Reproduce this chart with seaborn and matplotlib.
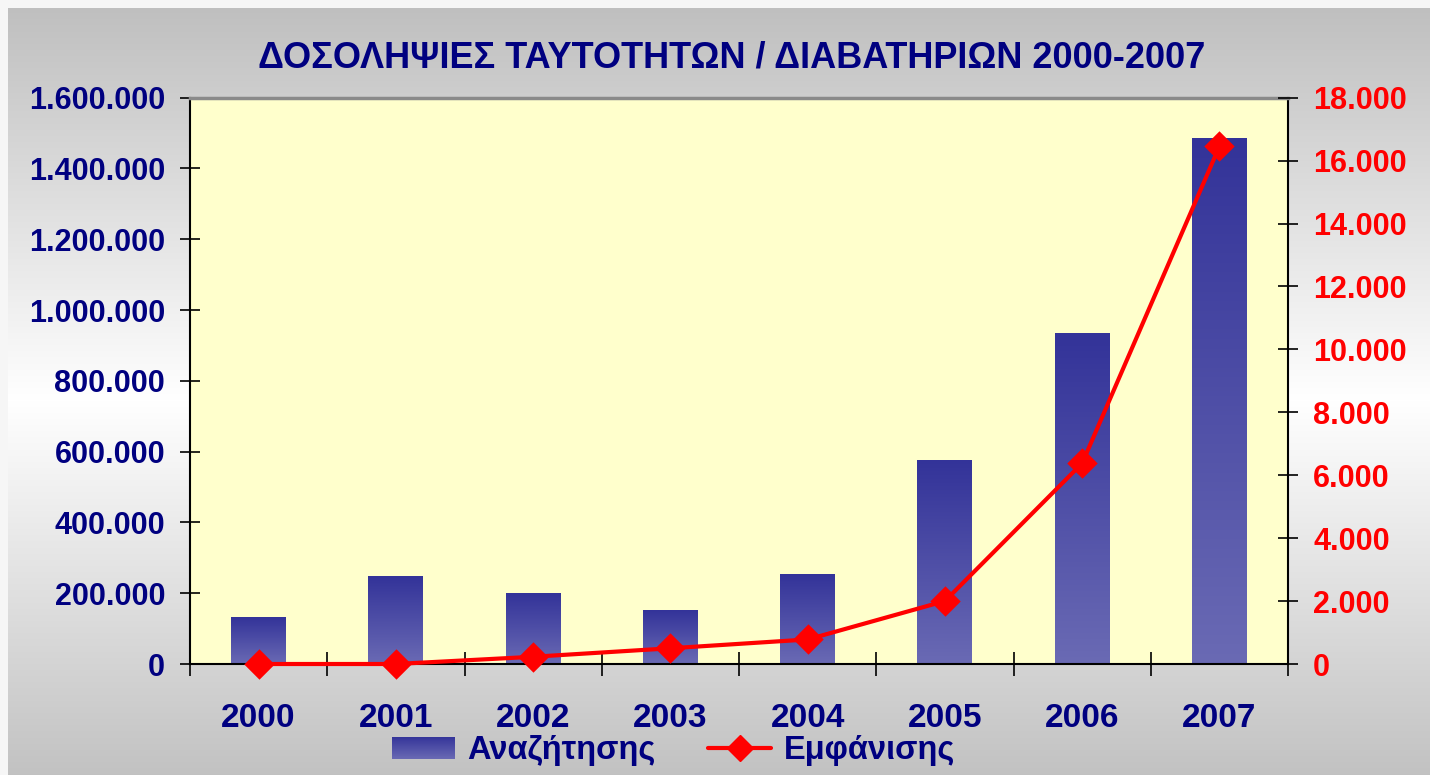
#importing libraries
import numpy as np
import matplotlib
matplotlib.use("Agg")
import matplotlib.pyplot as plt
from matplotlib.colors import LinearSegmentedColormap
from matplotlib.lines import Line2D
from matplotlib.patches import Patch
from matplotlib.ticker import FuncFormatter
import seaborn as sns

# chart data
years = ["2000", "2001", "2002", "2003", "2004", "2005", "2006", "2007"]
anazitisis = [130000, 246000, 198000, 150000, 254000, 576000, 934000, 1486000]
emfanisis = [0, 0, 230, 500, 780, 2000, 6380, 16450]
left_ticks = [0, 200000, 400000, 600000, 800000, 1000000, 1200000, 1400000, 1600000]
right_ticks = [0, 2000, 4000, 6000, 8000, 10000, 12000, 14000, 16000, 18000]

title = "ΔΟΣΟΛΗΨΙΕΣ ΤΑΥΤΟΤΗΤΩΝ / ΔΙΑΒΑΤΗΡΙΩΝ 2000-2007"
bar_label = "Αναζήτησης"
line_label = "Εμφάνισης"

NAVY = "#000080"
RED = "#ff0000"

sns.set_theme(style="white")
plt.rcParams["font.family"] = ["Liberation Sans", "DejaVu Sans"]
plt.rcParams["font.weight"] = "bold"

W, H = 1430, 775
fig = plt.figure(figsize=(W / 100, H / 100), dpi=100, facecolor="#f6f6f6")

# gray - white - gray background gradient
bg = fig.add_axes([8 / W, 0, 1 - 8 / W, 1 - 8 / H], zorder=-10)
rows = np.arange(8, H)
shade = np.interp(rows, [8, 400, H], [0.75, 1.0, 0.76])
bg_img = np.repeat(shade[:, None, None], 3, axis=2)
bg.imshow(bg_img, aspect="auto", extent=[0, 1, 0, 1])
bg.axis("off")

ax1 = fig.add_axes([190 / W, 1 - 664 / H, (1288 - 190) / W, (664 - 97.7) / H])
ax1.set_facecolor("#ffffcc")

# bars (drawn by seaborn, then filled with a vertical gradient)
sns.barplot(x=years, y=anazitisis, ax=ax1, width=0.4, color="#4d4da6",
            errorbar=None, saturation=1)
bar_cmap = LinearSegmentedColormap.from_list("bars", ["#333399", "#6a6ab4"])
grad = np.linspace(0, 1, 256).reshape(-1, 1)
for p in list(ax1.patches):
    x0, w, h = p.get_x(), p.get_width(), p.get_height()
    ax1.imshow(grad, cmap=bar_cmap, aspect="auto", extent=[x0, x0 + w, 0, h],
               zorder=2)
    p.set_visible(False)

ax1.set_xlim(-0.5, len(years) - 0.5)
ax1.set_ylim(0, 1600000)
ax1.set_yticks(left_ticks)
ax1.yaxis.set_major_formatter(FuncFormatter(lambda v, _: f"{v:,.0f}".replace(",", ".")))
ax1.tick_params(axis="y", which="major", direction="inout", length=14, width=1.2,
                color="black", labelsize=22, labelcolor=NAVY, pad=11, left=True)
ax1.set_xticks(range(len(years)))
ax1.set_xticklabels(years)
ax1.set_xticks(np.arange(-0.5, len(years), 1), minor=True)
ax1.tick_params(axis="x", which="major", length=0, labelsize=24, labelcolor=NAVY, pad=28)
ax1.tick_params(axis="x", which="minor", direction="inout", length=17, width=1.2,
                color="black", bottom=True)
ax1.set_xlabel("")
ax1.set_ylabel("")
for side in ["left", "bottom", "right"]:
    ax1.spines[side].set_color("black")
    ax1.spines[side].set_linewidth(1.5)
ax1.spines["top"].set_color("#8a8a8a")
ax1.spines["top"].set_linewidth(2.5)

# line on the secondary axis
ax2 = ax1.twinx()
sns.pointplot(x=years, y=emfanisis, ax=ax2, color=RED, marker="D", markersize=13,
              linewidth=3, errorbar=None)
for ln in ax2.lines:
    ln.set_clip_on(False)
ax2.set_xlim(-0.5, len(years) - 0.5)
ax2.set_ylim(0, 18000)
ax2.set_yticks(right_ticks)
ax2.yaxis.set_major_formatter(FuncFormatter(lambda v, _: f"{v:,.0f}".replace(",", ".")))
ax2.tick_params(axis="y", which="major", direction="inout", length=14, width=1.2,
                color="black", labelsize=22, labelcolor=RED, pad=11, right=True)
ax2.set_xlabel("")
ax2.set_ylabel("")
for s in ax2.spines.values():
    s.set_visible(False)
ax2.xaxis.set_visible(False)

fig.text(0.512, 1 - 68 / H, title, ha="center", va="baseline", fontsize=26,
         color=NAVY, fontweight="bold")

handles = [
    Patch(facecolor="#4d4da6", edgecolor="none", label=bar_label),
    Line2D([], [], color=RED, lw=3, marker="D", markersize=13, label=line_label),
]
leg = fig.legend(handles=handles, loc="center", bbox_to_anchor=(0.471, 0.031),
                 ncol=2, frameon=False, fontsize=23.5, handlelength=1.92,
                 handletextpad=0.4, columnspacing=1.62, labelcolor=NAVY)

# gradient on the legend bar key
fig.canvas.draw()
renderer = fig.canvas.get_renderer()
hb = leg.legend_handles[0].get_window_extent(renderer).transformed(fig.transFigure.inverted())
kax = fig.add_axes([hb.x0, hb.y0, hb.width, hb.height], zorder=20)
kax.imshow(grad, cmap=bar_cmap, aspect="auto")
kax.axis("off")

fig.savefig("out.png", dpi=100, facecolor=fig.get_facecolor())
